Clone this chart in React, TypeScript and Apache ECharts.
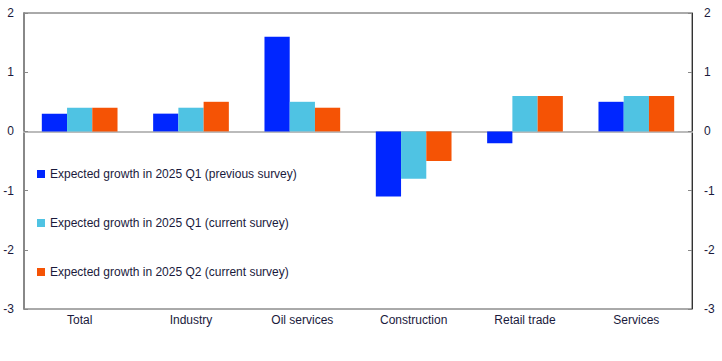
import React, { useEffect, useRef } from "react";
import * as echarts from "echarts";

const categories = ["Total", "Industry", "Oil services", "Construction", "Retail trade", "Services"];
const seriesNames = [
  "Expected growth in 2025 Q1 (previous survey)",
  "Expected growth in 2025 Q1 (current survey)",
  "Expected growth in 2025 Q2 (current survey)",
];
const q1Previous = [0.3, 0.3, 1.6, -1.1, -0.2, 0.5];
const q1Current = [0.4, 0.4, 0.5, -0.8, 0.6, 0.6];
const q2Current = [0.4, 0.5, 0.4, -0.5, 0.6, 0.6];
const colors = ["#0026ff", "#4fc3e3", "#f55305"];

const textColor = "#1a1a3c";
const font = "'Liberation Sans', Arial, sans-serif";

export default function App() {
  const ref = useRef<HTMLDivElement>(null);
  useEffect(() => {
    if (!ref.current) return;
    const chart = echarts.init(ref.current, null, { renderer: "svg" });
    const data = [q1Previous, q1Current, q2Current];
    chart.setOption({
      animation: false,
      textStyle: { fontFamily: font },
      grid: {
        left: 24,
        right: 30,
        top: 13,
        bottom: 52,
        show: true,
        borderColor: "#555",
        borderWidth: 1,
      },
      legend: {
        orient: "vertical",
        left: 32,
        top: 163,
        itemWidth: 8,
        itemHeight: 8,
        itemGap: 37,
        icon: "rect",
        textStyle: { color: textColor, fontSize: 12, fontFamily: font },
        data: seriesNames,
      },
      xAxis: {
        type: "category",
        data: categories,
        axisLine: { onZero: true, lineStyle: { color: "#bbbbbb", width: 2 } },
        axisTick: { show: false },
        axisLabel: {
          color: textColor,
          fontSize: 12,
          fontFamily: font,
          margin: 5,
          interval: 0,
        },
        position: "bottom",
      },
      yAxis: [
        {
          type: "value",
          min: -3,
          max: 2,
          interval: 1,
          position: "left",
          splitLine: { show: false },
          axisLine: { show: true, lineStyle: { color: "#888", width: 2 } },
          axisTick: { show: true, inside: true, length: 4, lineStyle: { color: "#888" } },
          axisLabel: { color: textColor, fontSize: 12, fontFamily: font, margin: 10 },
        },
        {
          type: "value",
          min: -3,
          max: 2,
          interval: 1,
          position: "right",
          splitLine: { show: false },
          axisLine: { show: true, lineStyle: { color: "#333", width: 1 } },
          axisTick: { show: true, inside: true, length: 4, lineStyle: { color: "#888" } },
          axisLabel: { color: textColor, fontSize: 12, fontFamily: font, margin: 12 },
        },
      ],
      series: data.map((vals, i) => ({
        name: seriesNames[i],
        type: "bar",
        data: vals,
        barGap: "0%",
        barCategoryGap: "32%",
        itemStyle: { color: colors[i] },
        z: 1,
      })),
    });
    return () => chart.dispose();
  }, []);
  return <div ref={ref} style={{ width: 722, height: 361, position: "absolute", left: 0, top: 0 }} />;
}
